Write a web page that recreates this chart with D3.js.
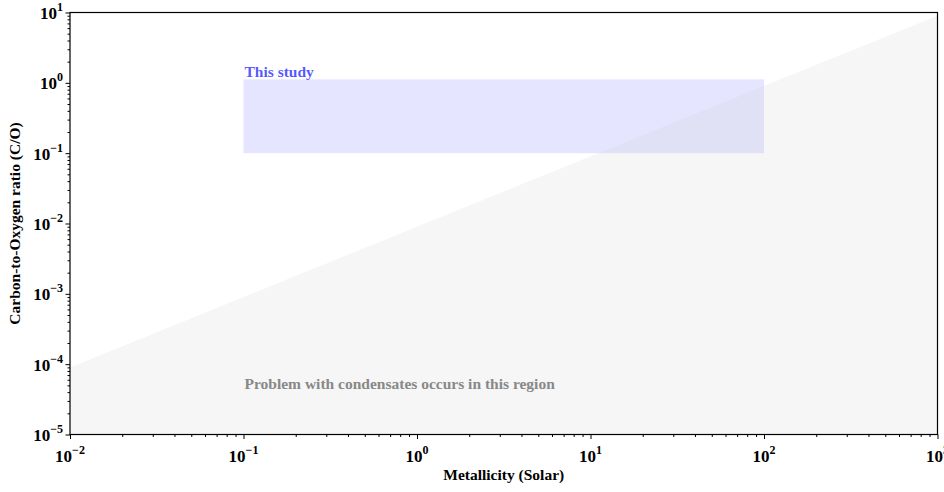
<!DOCTYPE html>
<meta charset="utf-8">
<head>
</head>
<body style="margin:0">
<style>
svg text { font-family: "Liberation Serif", "Times New Roman", serif; font-weight: bold; }
.tick-label { font-size: 17px; }
.axis-title { font-size: 15.5px; }
</style>
<svg width="944" height="492"></svg>
<script src="https://d3js.org/d3.v7.min.js"></script>
<script>
// axis ranges (log10 decades)
var xDomain = [1e-2, 1e3];
var yDomain = [1e-5, 1e1];
var xTickExps = [-2, -1, 0, 1, 2, 3];
var yTickExps = [-5, -4, -3, -2, -1, 0, 1];

// condensate boundary line (C/O vs metallicity), region below is shaded
var boundaryZ = [1e-2, 1e3];
var boundaryCO = [9e-5, 9];

// "This study" box
var studyZ = [0.1, 100];
var studyCO = [0.1, 1.12];

var svg = d3.select("svg"),
  width = +svg.attr("width"),
  height = +svg.attr("height");
var margin = {left: 70, right: 6.5, top: 12.5, bottom: 57.5};

var x = d3.scaleLog().domain(xDomain).range([margin.left, width - margin.right]);
var y = d3.scaleLog().domain(yDomain).range([height - margin.bottom, margin.top]);

// study box
svg.append("rect")
  .attr("x", x(studyZ[0]))
  .attr("y", y(studyCO[1]))
  .attr("width", x(studyZ[1]) - x(studyZ[0]))
  .attr("height", y(studyCO[0]) - y(studyCO[1]))
  .attr("fill", "blue")
  .attr("fill-opacity", 0.1);

// shaded region under boundary
var poly = [[boundaryZ[0], yDomain[0]], [boundaryZ[0], boundaryCO[0]],
            [boundaryZ[1], boundaryCO[1]], [boundaryZ[1], yDomain[0]]];
svg.append("path")
  .attr("d", d3.line().x(function(d) { return x(d[0]); }).y(function(d) { return y(d[1]); })(poly) + "Z")
  .attr("fill", "#d3d3d3")
  .attr("fill-opacity", 0.2);

svg.append("text")
  .attr("x", x(studyZ[0]) + 1)
  .attr("y", y(studyCO[1]) - 2)
  .attr("fill", "blue").attr("fill-opacity", 0.68)
  .style("font-size", "15.5px")
  .text("This study");

svg.append("text")
  .attr("x", x(0.1) + 1)
  .attr("y", y(5e-5) + 4)
  .attr("fill", "#888")
  .style("font-size", "15.5px")
  .text("Problem with condensates occurs in this region");

// frame
svg.append("rect")
  .attr("x", margin.left).attr("y", margin.top)
  .attr("width", width - margin.right - margin.left)
  .attr("height", height - margin.bottom - margin.top)
  .attr("fill", "none").attr("stroke", "#000").attr("stroke-width", 1.2);

// ticks
function minorTicks(dom) {
  var out = [];
  for (var e = Math.round(Math.log10(dom[0])); e < Math.round(Math.log10(dom[1])); e++) {
    for (var k = 1; k < 10; k++) out.push(k * Math.pow(10, e));
  }
  out.push(dom[1]);
  return out;
}
function isMajor(d) { return Math.abs(Math.log10(d) - Math.round(Math.log10(d))) < 1e-9; }

var xAxis = svg.append("g").attr("transform", "translate(0," + (height - margin.bottom) + ")")
  .call(d3.axisBottom(x).tickValues(minorTicks(xDomain)).tickFormat("").tickSize(0));
xAxis.select(".domain").remove();
xAxis.selectAll(".tick line").attr("y2", function(d) { return isMajor(d) ? 4.5 : 2.5; });

var yAxis = svg.append("g").attr("transform", "translate(" + margin.left + ",0)")
  .call(d3.axisLeft(y).tickValues(minorTicks(yDomain)).tickFormat("").tickSize(0));
yAxis.select(".domain").remove();
yAxis.selectAll(".tick line").attr("x2", function(d) { return isMajor(d) ? -4.5 : -2.5; });

// tick labels 10^n
function powLabel(sel, e) {
  sel.append("tspan").text("10");
  sel.append("tspan").attr("dy", -8).style("font-size", "12px").text(e < 0 ? "\u2212" + (-e) : e);
}
xTickExps.forEach(function(e) {
  var t = svg.append("text").attr("class", "tick-label")
    .attr("text-anchor", "middle")
    .attr("x", x(Math.pow(10, e))).attr("y", height - margin.bottom + 27);
  powLabel(t, e);
});
yTickExps.forEach(function(e) {
  var t = svg.append("text").attr("class", "tick-label")
    .attr("text-anchor", "end")
    .attr("x", margin.left - 7).attr("y", y(Math.pow(10, e)) + 6.5);
  powLabel(t, e);
});

svg.append("text").attr("class", "axis-title")
  .attr("x", (margin.left + width - margin.right) / 2).attr("y", height - 12)
  .attr("text-anchor", "middle").text("Metallicity (Solar)");
svg.append("text").attr("class", "axis-title")
  .attr("transform", "translate(20," + ((margin.top + height - margin.bottom) / 2) + ") rotate(-90)")
  .attr("text-anchor", "middle").text("Carbon-to-Oxygen ratio (C/O)");
</script>
</body>
